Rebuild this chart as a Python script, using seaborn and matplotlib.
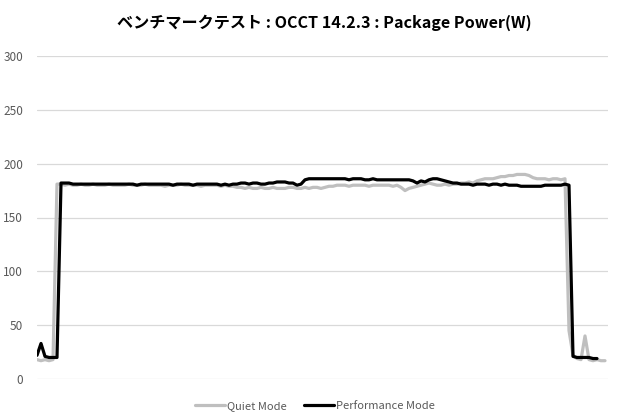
import pandas as pd
import numpy as np
import matplotlib.pyplot as plt
import seaborn as sns

# Package Power (W) readings, evenly spaced samples
quiet_mode = [
    18, 17, 18, 17, 18,
    181, 181, 180, 181, 180, 180, 181, 180, 180, 181, 180, 180, 180, 181, 180, 180,
    180, 180, 181, 180, 180, 180, 181, 180, 180, 180, 180, 179, 180, 180, 180, 181,
    180, 180, 180, 180, 179, 180, 180, 180, 180, 179, 180, 179,
    179, 178, 178, 177, 178, 177, 177, 178, 177, 177, 178, 177, 177, 177, 178, 178,
    177, 177, 178, 177, 178, 178, 177, 178, 179,
    179, 180, 180, 180, 179, 180, 180, 180, 180, 179, 180, 180, 180, 180, 180, 179,
    180, 178,
    175, 177, 178, 179, 180, 181, 182, 181, 180, 180, 181, 180, 181, 181, 182, 182,
    183, 182, 184, 185, 186, 186, 186, 187, 188, 188, 189, 189, 190, 190, 190, 189,
    187, 186, 186, 186, 185, 186, 186, 185, 186,
    45, 22, 19, 18, 40, 18, 17, 18, 17, 17,
]
performance_mode = [
    22, 33, 21, 20, 20, 20,
    182, 182, 182, 181, 181, 181, 181, 181, 181, 181, 181, 181, 181, 181, 181,
    181, 181, 181, 181, 180, 181, 181, 181, 181, 181, 181, 181, 181, 180, 181, 181,
    181, 181, 180, 181, 181, 181, 181, 181, 181, 180, 181,
    180, 181, 181, 182, 182, 181, 182, 182, 181, 181, 182, 182, 183, 183, 183, 182,
    182, 180, 181, 185, 186,
    186, 186, 186, 186, 186, 186, 186, 186, 186, 185, 186, 186, 186, 185, 185, 186,
    185, 185, 185, 185, 185, 185, 185, 185, 185,
    184, 182, 184, 183, 185, 186, 186, 185, 184, 183, 182, 182, 181, 181, 181, 180,
    181, 181, 181, 180, 181, 181, 180, 181, 180, 180, 180, 179, 179, 179, 179, 179,
    179, 180, 180, 180, 180, 180, 181, 180,
    21, 20, 20, 20, 20, 19, 19,
]
series_names = ["Quiet Mode", "Performance Mode"]
y_ticks = [0, 50, 100, 150, 200, 250, 300]
title = "ベンチマークテスト : OCCT 14.2.3 : Package Power(W)"

df = pd.concat([
    pd.DataFrame({"sample": np.arange(len(quiet_mode)), "power": quiet_mode, "mode": series_names[0]}),
    pd.DataFrame({"sample": np.arange(len(performance_mode)), "power": performance_mode, "mode": series_names[1]}),
])

sns.set_theme(style="white")
plt.rcParams['font.family'] = ['Noto Sans CJK JP', 'DejaVu Sans']

fig = plt.figure(figsize=(6.2, 4.2), dpi=100)
ax = fig.add_axes([37 / 620, 41 / 420, 571 / 620, 323 / 420])

sns.lineplot(data=df, x="sample", y="power", hue="mode",
             palette={"Quiet Mode": "#bfbfbf", "Performance Mode": "#000000"},
             linewidth=2.3, ax=ax, legend=False)

ax.set_xlim(0, 142.75)
ax.set_ylim(0, 300)
ax.set_yticks(y_ticks)
ax.set_xticks([])
ax.yaxis.grid(True, color="#d9d9d9", linewidth=0.9)
ax.set_axisbelow(True)
for s in ax.spines.values():
    s.set_visible(False)
ax.tick_params(axis="y", length=0, pad=10, labelsize=8.5, labelcolor="#595959")
ax.set_xlabel("")
ax.set_ylabel("")

fig.text(0.523, 0.945, title, ha="center", va="center", fontsize=11.6, fontweight="bold", color="#000000")

handles = [plt.Line2D([], [], color="#bfbfbf", linewidth=2.3),
           plt.Line2D([], [], color="#000000", linewidth=2.3)]
fig.legend(handles, series_names, loc="center", bbox_to_anchor=(0.508, 0.033), ncol=2,
           frameon=False, fontsize=8, labelcolor="#595959", handlelength=2.7,
           handletextpad=0.2, columnspacing=1.5)

plt.savefig("out.png", dpi=100)
